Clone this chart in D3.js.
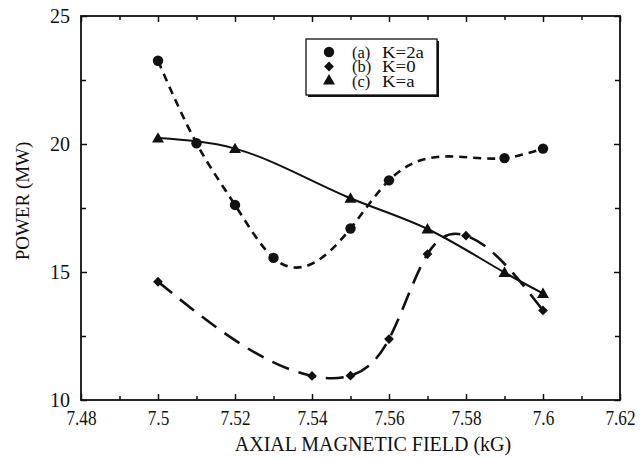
<!DOCTYPE html>
<html>
<head>
<meta charset="utf-8">
<script src="https://cdn.jsdelivr.net/npm/d3@7/dist/d3.min.js"></script>
<style>
  html, body { margin: 0; padding: 0; background: #fff; }
  svg { display: block; }
  text { font-family: "Liberation Serif", "Times New Roman", serif; fill: #111; }
</style>
</head>
<body>
<svg id="chart" width="644" height="459"></svg>
<script>
// ---- data ----
const fieldA = [7.50, 7.51, 7.52, 7.53, 7.55, 7.56, 7.59, 7.60];
const powerA = [23.25, 20.03, 17.62, 15.55, 16.70, 18.58, 19.45, 19.82];

const fieldB = [7.50, 7.54, 7.55, 7.56, 7.57, 7.58, 7.60];
const powerB = [14.62, 10.94, 10.95, 12.38, 15.70, 16.42, 13.50];

const fieldC = [7.50, 7.52, 7.55, 7.57, 7.59, 7.60];
const powerC = [20.23, 19.82, 17.88, 16.68, 14.98, 14.16];

const seriesLabels = ["(a)", "(b)", "(c)"];
const seriesNames = ["K=2a", "K=0", "K=a"];

const xTicks = [7.48, 7.50, 7.52, 7.54, 7.56, 7.58, 7.60, 7.62];
const xTickLabels = ["7.48", "7.5", "7.52", "7.54", "7.56", "7.58", "7.6", "7.62"];
const xMinorTicks = [7.49, 7.51, 7.53, 7.55, 7.57, 7.59, 7.61];
const yTicks = [10, 15, 20, 25];
const yMinorTicks = [12.5, 17.5, 22.5];

const xTitle = "AXIAL MAGNETIC FIELD (kG)";
const yTitle = "POWER (MW)";

// ---- custom d3 curve: natural cubic spline as a function of x ----
function NaturalX(context) { this._context = context; }
NaturalX.prototype = {
  areaStart() { this._line = 0; },
  areaEnd() { this._line = NaN; },
  lineStart() { this._px = []; this._py = []; },
  point(px, py) { this._px.push(+px); this._py.push(+py); },
  lineEnd() {
    const X = this._px, Y = this._py, n = X.length, c = this._context;
    if (!n) return;
    c.moveTo(X[0], Y[0]);
    if (n === 2) { c.lineTo(X[1], Y[1]); return; }
    const h = [];
    for (let i = 0; i < n - 1; i++) h.push(X[i + 1] - X[i]);
    // solve tridiagonal for second derivatives M (natural: M0 = Mn-1 = 0)
    const M = new Array(n).fill(0);
    const a = [], b = [], cc = [], r = [];
    for (let i = 1; i < n - 1; i++) {
      a.push(h[i - 1]); b.push(2 * (h[i - 1] + h[i])); cc.push(h[i]);
      r.push(6 * ((Y[i + 1] - Y[i]) / h[i] - (Y[i] - Y[i - 1]) / h[i - 1]));
    }
    const m = b.length;
    for (let i = 1; i < m; i++) {
      const w = a[i] / b[i - 1];
      b[i] -= w * cc[i - 1];
      r[i] -= w * r[i - 1];
    }
    const sol = new Array(m);
    sol[m - 1] = r[m - 1] / b[m - 1];
    for (let i = m - 2; i >= 0; i--) sol[i] = (r[i] - cc[i] * sol[i + 1]) / b[i];
    for (let i = 0; i < m; i++) M[i + 1] = sol[i];
    for (let i = 0; i < n - 1; i++) {
      const hi = h[i], s = (Y[i + 1] - Y[i]) / hi;
      const d0 = s - hi * (2 * M[i] + M[i + 1]) / 6;
      const d1 = s + hi * (M[i] + 2 * M[i + 1]) / 6;
      c.bezierCurveTo(X[i] + hi / 3, Y[i] + d0 * hi / 3,
                      X[i + 1] - hi / 3, Y[i + 1] - d1 * hi / 3,
                      X[i + 1], Y[i + 1]);
    }
  }
};
const curveNaturalX = ctx => new NaturalX(ctx);

// ---- layout ----
const svg = d3.select("#chart");
const L = 81, R = 620, T = 16, B = 400;
const x = d3.scaleLinear().domain([7.48, 7.62]).range([L, R]);
const y = d3.scaleLinear().domain([10, 25]).range([B, T]);

const ink = "#111";

svg.append("rect").attr("x", L).attr("y", T).attr("width", R - L).attr("height", B - T)
  .attr("fill", "none").attr("stroke", ink).attr("stroke-width", 1.8);

function axisGroup(axis, tx, ty) {
  const g = svg.append("g").attr("transform", `translate(${tx},${ty})`).call(axis);
  g.select(".domain").remove();
  g.selectAll(".tick line").attr("stroke", ink).attr("stroke-width", 1.5);
  return g;
}
const gxb = axisGroup(d3.axisBottom(x).tickValues(xTicks).tickSize(-6).tickPadding(11)
  .tickFormat((d, i) => xTickLabels[i]), 0, B);
gxb.selectAll(".tick text").attr("font-size", 20).attr("fill", ink)
  .style("font-family", '"Liberation Serif", serif')
  .each(function () {
    const w = this.getComputedTextLength();
    d3.select(this).attr("textLength", w * 0.86).attr("lengthAdjust", "spacingAndGlyphs");
  });
axisGroup(d3.axisBottom(x).tickValues(xMinorTicks).tickSize(-4).tickFormat(""), 0, B);
axisGroup(d3.axisTop(x).tickValues(xTicks).tickSize(-6).tickFormat(""), 0, T);
axisGroup(d3.axisTop(x).tickValues(xMinorTicks).tickSize(-4).tickFormat(""), 0, T);
const gyl = axisGroup(d3.axisLeft(y).tickValues(yTicks).tickSize(-6).tickPadding(11)
  .tickFormat(d3.format("d")), L, 0);
gyl.selectAll(".tick text").attr("font-size", 20).attr("fill", ink)
  .style("font-family", '"Liberation Serif", serif');
axisGroup(d3.axisLeft(y).tickValues(yMinorTicks).tickSize(-5).tickFormat(""), L, 0);
axisGroup(d3.axisRight(y).tickValues(yTicks).tickSize(-6).tickFormat(""), R, 0);
axisGroup(d3.axisRight(y).tickValues(yMinorTicks).tickSize(-5).tickFormat(""), R, 0);

svg.append("text").attr("x", 373).attr("y", 451).attr("text-anchor", "middle")
  .attr("font-size", 20).text(xTitle);
svg.append("text").attr("transform", "translate(29,201) rotate(-90)").attr("text-anchor", "middle")
  .attr("font-size", 19).text(yTitle);

// curves
const line = d3.line().x(d => x(d[0])).y(d => y(d[1])).curve(curveNaturalX);
const zip = (a, b) => a.map((v, i) => [v, b[i]]);
const dataA = zip(fieldA, powerA), dataB = zip(fieldB, powerB), dataC = zip(fieldC, powerC);

svg.append("path").datum(dataC).attr("d", line).attr("fill", "none")
  .attr("stroke", ink).attr("stroke-width", 2);
svg.append("path").datum(dataA).attr("d", line).attr("fill", "none")
  .attr("stroke", ink).attr("stroke-width", 2.6).attr("stroke-dasharray", "8,6");
svg.append("path").datum(dataB).attr("d", line).attr("fill", "none")
  .attr("stroke", ink).attr("stroke-width", 2.6).attr("stroke-dasharray", "18,10");

// markers
const circ = d3.symbol().type(d3.symbolCircle).size(85);
const diam = d3.symbol().type(d3.symbolSquare).size(48);
const tri = d3.symbol().type(d3.symbolTriangle).size(62);

svg.append("g").selectAll("path").data(dataA).join("path")
  .attr("d", circ).attr("fill", ink)
  .attr("transform", d => `translate(${x(d[0])},${y(d[1])})`);
svg.append("g").selectAll("path").data(dataB).join("path")
  .attr("d", diam).attr("fill", ink)
  .attr("transform", d => `translate(${x(d[0])},${y(d[1])}) rotate(45)`);
svg.append("g").selectAll("path").data(dataC).join("path")
  .attr("d", tri).attr("fill", ink)
  .attr("transform", d => `translate(${x(d[0])},${y(d[1]) + 1})`);

// legend
const lg = svg.append("g");
lg.append("rect").attr("x", 308).attr("y", 41).attr("width", 131).attr("height", 56).attr("fill", ink);
lg.append("rect").attr("x", 306).attr("y", 39).attr("width", 131).attr("height", 56)
  .attr("fill", "#fff").attr("stroke", ink).attr("stroke-width", 1.3);
const rowsY = [52, 66.5, 81];
const syms = [
  { s: circ, rot: "" },
  { s: diam, rot: " rotate(45)" },
  { s: tri, rot: "" }
];
seriesLabels.forEach((lab, i) => {
  lg.append("path").attr("d", syms[i].s).attr("fill", ink)
    .attr("transform", `translate(329,${rowsY[i]})${syms[i].rot}`);
  lg.append("text").attr("x", 352).attr("y", rowsY[i] + 5.5).attr("font-size", 16.5).text(lab);
  lg.append("text").attr("x", 382).attr("y", rowsY[i] + 5.5).attr("font-size", 16.5).text(seriesNames[i])
    .each(function () {
      const w = this.getComputedTextLength();
      d3.select(this).attr("textLength", w * 1.14).attr("lengthAdjust", "spacingAndGlyphs");
    });
});
</script>
</body>
</html>
